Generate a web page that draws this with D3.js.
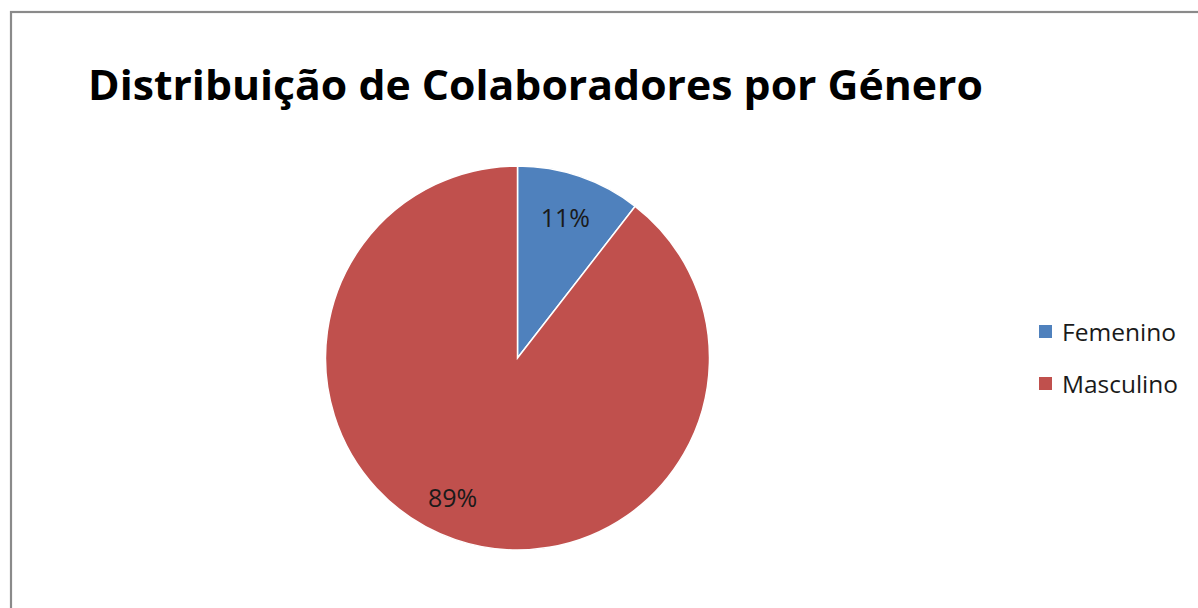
<!DOCTYPE html>
<html>
<head>
<meta charset="utf-8">
<script src="https://cdn.jsdelivr.net/npm/d3@7"></script>
<style>
  html, body { margin: 0; padding: 0; background: #fff; overflow: hidden; }
  text { font-family: "Open Sans", "Noto Sans", sans-serif; }
</style>
</head>
<body>
<div id="chart"></div>
<script>
// data
const categories = ["Femenino", "Masculino"];
const shares = [10.5, 89.5];
const pctLabels = ["11%", "89%"];
const colors = ["#4f81bd", "#c0504d"];
const title = "Distribuição de Colaboradores por Género";

const width = 1198, height = 608;

const svg = d3.select("#chart")
  .append("svg")
    .attr("width", width)
    .attr("height", height);

// chart area border (right / bottom fall outside the picture)
svg.append("rect")
  .attr("x", 11)
  .attr("y", 12)
  .attr("width", width + 20)
  .attr("height", height + 20)
  .attr("fill", "#fff")
  .attr("stroke", "#8a8a8a")
  .attr("stroke-width", 2.2);

// fit a text element to a target width by scaling its font size
function fitWidth(sel, target) {
  const w = sel.node().getComputedTextLength();
  const fs = parseFloat(sel.attr("font-size"));
  sel.attr("font-size", fs * target / w);
}

// title - Calibri is narrower, so squeeze glyphs to keep the height
svg.append("text")
  .attr("x", 88)
  .attr("y", 100)
  .attr("font-size", 41)
  .attr("font-weight", "bold")
  .attr("fill", "#000")
  .attr("textLength", 895)
  .attr("lengthAdjust", "spacingAndGlyphs")
  .text(title);

// pie
const cx = 517.5, cy = 358, r = 192;
const g = svg.append("g").attr("transform", `translate(${cx},${cy})`);

const pie = d3.pie().sort(null).value(d => d.v);
const slices = pie(shares.map((v, i) => ({v: v, i: i})));
const arc = d3.arc().innerRadius(0).outerRadius(r);

g.selectAll("path")
  .data(slices)
  .join("path")
    .attr("d", arc)
    .attr("fill", d => colors[d.data.i])
    .attr("stroke", "#fff")
    .attr("stroke-width", 1.5);

// percent labels
const labelArc = d3.arc().innerRadius(r * 0.77).outerRadius(r * 0.77);
g.selectAll("text.pct")
  .data(slices)
  .join("text")
    .attr("class", "pct")
    .attr("transform", d => {
      const c = labelArc.centroid(d);
      return `translate(${c[0]},${c[1]})`;
    })
    .attr("text-anchor", "middle")
    .attr("dy", "0.35em")
    .attr("dx", (d, i) => i === 1 ? -17 : 0)
    .attr("font-size", 25)
    .attr("fill", "#1a1a1a")
    .text((d, i) => pctLabels[i]);

// legend
const legend = svg.append("g").attr("transform", "translate(1039,0)");
const ly = d3.scalePoint().domain(categories).range([332, 384]);

legend.selectAll("rect")
  .data(categories)
  .join("rect")
    .attr("x", 0)
    .attr("y", d => ly(d) - 7)
    .attr("width", 13)
    .attr("height", 13)
    .attr("fill", (d, i) => colors[i]);

legend.selectAll("text")
  .data(categories)
  .join("text")
    .attr("x", 23)
    .attr("y", d => ly(d) + 9)
    .attr("font-size", 24)
    .attr("fill", "#1a1a1a")
    .attr("textLength", (d, i) => i === 0 ? 114 : 116)
    .attr("lengthAdjust", "spacingAndGlyphs")
    .text(d => d);
</script>
</body>
</html>
